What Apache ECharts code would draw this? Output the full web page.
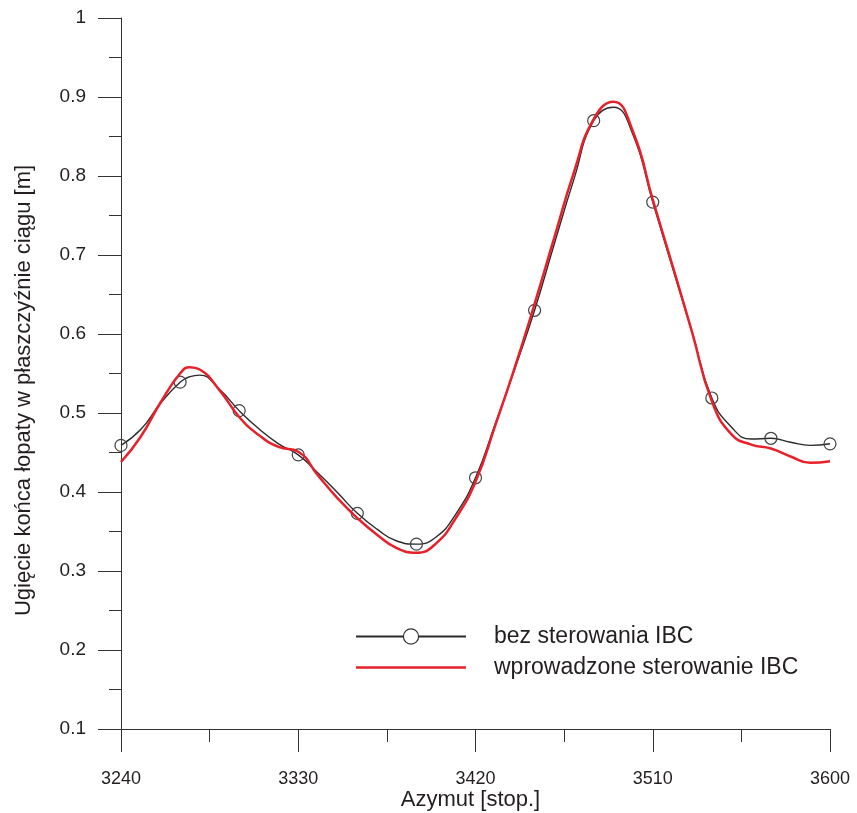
<!DOCTYPE html>
<html>
<head>
<meta charset="utf-8">
<script src="https://cdn.jsdelivr.net/npm/echarts@6/dist/echarts.min.js"></script>
<style>
html,body{margin:0;padding:0;background:#fff;}
#chart{width:857px;height:813px;}
</style>
</head>
<body>
<div id="chart"></div>
<script>
// Azimuth samples [deg]
const azimuth = [3240,3250,3260,3270,3275,3280,3290,3300,3310,3320,3330,3340,3350,3360,3370,3380,3390,3400,3410,3420,3430,3440,3450,3460,3470,3480,3490,3500,3510,3520,3530,3540,3550,3560,3570,3580,3590,3600];
// "bez sterowania IBC" (black line, circle markers every 30 deg)
const bezSterowania = [0.459,0.479,0.512,0.539,0.546,0.548,0.530,0.503,0.480,0.461,0.447,0.424,0.399,0.373,0.353,0.338,0.334,0.343,0.372,0.418,0.486,0.556,0.630,0.714,0.796,0.870,0.887,0.852,0.767,0.684,0.602,0.519,0.482,0.467,0.468,0.463,0.459,0.461];
// "wprowadzone sterowanie IBC" (red line)
const zSterowaniem = [0.438,0.470,0.513,0.550,0.558,0.555,0.529,0.495,0.472,0.457,0.451,0.421,0.392,0.367,0.346,0.329,0.323,0.335,0.367,0.413,0.484,0.558,0.638,0.722,0.805,0.872,0.894,0.856,0.770,0.687,0.602,0.515,0.473,0.460,0.455,0.445,0.437,0.439];
const markerStep = 30;
const seriesNames = ['bez sterowania IBC', 'wprowadzone sterowanie IBC'];
const xRange = [3240, 3600];
const xInterval = 90;
const yRange = [0.1, 1];
const yInterval = 0.1;
const xName = 'Azymut [stop.]';
const yName = 'Ugięcie końca łopaty w płaszczyźnie ciągu [m]';

const FONT = '"Liberation Sans", Arial, sans-serif';
const TXT = '#231f20';
const AX = '#333';

const blackData = azimuth.map((a, i) => [a, bezSterowania[i]]);
const redData = azimuth.map((a, i) => [a, zSterowaniem[i]]);

const chart = echarts.init(document.getElementById('chart'), null, {renderer: 'canvas'});
chart.setOption({
  backgroundColor: '#fff',
  animation: false,
  grid: {left: 121, right: 27, top: 18, bottom: 84, containLabel: false, outerBoundsMode: 'none'},
  xAxis: {
    type: 'value', min: xRange[0], max: xRange[1], interval: xInterval,
    name: xName, nameLocation: 'middle', nameGap: 60, nameMoveOverlap: false,
    nameTextStyle: {fontFamily: FONT, fontSize: 22, color: TXT, padding: [0, 10, 0, 0]},
    axisLine: {show: true, onZero: false, lineStyle: {color: AX, width: 1}},
    axisTick: {show: true, inside: false, length: 23, lineStyle: {color: AX, width: 1}},
    minorTick: {show: true, splitNumber: 2, length: 13, lineStyle: {color: AX, width: 1}},
    axisLabel: {fontFamily: FONT, fontSize: 18, color: TXT, margin: 41, formatter: (v) => String(v)},
    splitLine: {show: false}
  },
  yAxis: {
    type: 'value', min: yRange[0], max: yRange[1], interval: yInterval,
    name: yName, nameLocation: 'middle', nameGap: 86,
    nameTextStyle: {fontFamily: FONT, fontSize: 22, color: TXT, padding: [0, 34, 0, 0]},
    axisLine: {show: true, onZero: false, lineStyle: {color: AX, width: 1}},
    axisTick: {show: true, inside: false, length: 23, lineStyle: {color: AX, width: 1}},
    minorTick: {show: true, splitNumber: 2, length: 12, lineStyle: {color: AX, width: 1}},
    axisLabel: {fontFamily: FONT, fontSize: 19, color: TXT, margin: 35},
    splitLine: {show: false}
  },
  legend: {
    orient: 'vertical', left: 350, top: 620,
    itemWidth: 110, itemHeight: 19, itemGap: 8,
    symbolKeepAspect: true,
    textStyle: {fontFamily: FONT, fontSize: 23, color: TXT, padding: [0, 0, 0, 23], lineHeight: 20},
    data: [
      {name: seriesNames[0], itemStyle: {color: '#fff', borderColor: '#333', borderWidth: 1.2}},
      {name: seriesNames[1], icon: 'path://M0,0H110V2.5H0Z', itemStyle: {color: '#e8202a'}}
    ]
  },
  series: [
    {
      name: seriesNames[0], type: 'line', data: blackData, smooth: 0.5,
      symbol: 'circle',
      symbolSize: (v) => (v[0] % markerStep === 0 ? 12 : 0),
      showAllSymbol: true,
      itemStyle: {color: 'rgba(255,255,255,0)', borderColor: '#444', borderWidth: 1.2},
      lineStyle: {color: '#2b2b2b', width: 1.4},
      z: 2
    },
    {
      name: seriesNames[1], type: 'line', data: redData, smooth: 0.5,
      symbol: 'none',
      itemStyle: {color: '#e8202a'},
      lineStyle: {color: '#e8202a', width: 2.5},
      z: 3
    }
  ]
});
</script>
</body>
</html>
